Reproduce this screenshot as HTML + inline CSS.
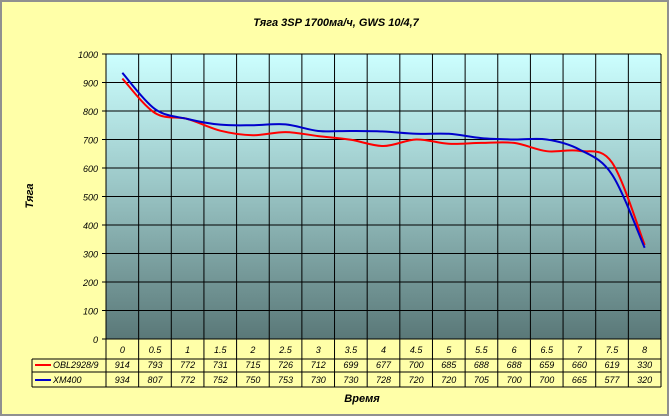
<!DOCTYPE html>
<html><head><meta charset="utf-8"><style>
html,body{margin:0;padding:0;background:#fff}
svg{display:block;font-family:"Liberation Sans",sans-serif}
</style></head><body>
<svg id="c" width="671" height="418">
<defs><linearGradient id="g" x1="0" y1="0" x2="0" y2="1"><stop offset="0" stop-color="#CCFFFF"/><stop offset="0.45" stop-color="#9CC8C8"/><stop offset="1" stop-color="#5A7878"/></linearGradient></defs>
<rect x="0" y="0" width="671" height="418" fill="#ffffff"/>
<rect x="1" y="1" width="667" height="414" fill="#FFFFA8" stroke="#909090" stroke-width="2"/>
<text x="336" y="26" text-anchor="middle" font-size="11" font-weight="bold" font-style="italic">Тяга 3SP 1700ма/ч, GWS 10/4,7</text>
<text x="33" y="196" text-anchor="middle" font-size="11" font-weight="bold" font-style="italic" transform="rotate(-90 33 196)">Тяга</text>
<text x="362" y="402" text-anchor="middle" font-size="11" font-weight="bold" font-style="italic">Время</text>
<g id="plot"></g>
</svg>
<script>
const categories=["0","0.5","1","1.5","2","2.5","3","3.5","4","4.5","5","5.5","6","6.5","7","7.5","8"];
const seriesOBL=[914,793,772,731,715,726,712,699,677,700,685,688,688,659,660,619,330];
const seriesXM=[934,807,772,752,750,753,730,730,728,720,720,705,700,700,665,577,320];
const yTicks=[0,100,200,300,400,500,600,700,800,900,1000];
const L=106,R=661,T=54,B=339,N=categories.length,cw=(R-L)/N;
const xs=i=>L+cw*(i+0.5), ys=v=>B-(v/1000)*(B-T);
const g=document.getElementById('plot'),NS="http://www.w3.org/2000/svg";
function mk(t,a,p){const e=document.createElementNS(NS,t);for(const k in a)e.setAttribute(k,a[k]);(p||g).appendChild(e);return e;}
let e=mk('rect',{x:L,y:T,width:R-L,height:B-T,fill:'url(#g)'});


yTicks.forEach(v=>{const y=ys(v);
 let l=mk('line',{x1:L-4,x2:R,y1:y,y2:y,stroke:'#000','stroke-width':1});
 
 
 let t=mk('text',{x:L-8,y:y+4,'text-anchor':'end','font-size':9,'font-style':'italic'});t.textContent=v;
 
 });
for(let i=0;i<=N;i++){const x=L+cw*i;let l=mk('line',{x1:x,x2:x,y1:T,y2:387,stroke:'#000','stroke-width':1});
 
 }
// table
const rows=[339,359,372,387];
rows.forEach((y,k)=>{let l=mk('line',{x1:k==0?L:32,x2:R,y1:y,y2:y,stroke:'#000','stroke-width':1});
 
 });
let lb=mk('line',{x1:32,x2:32,y1:359,y2:387,stroke:'#000'});


function cell(txt,x,y,name){let t=mk('text',{x:x,y:y,'text-anchor':'middle','font-size':9,'font-style':'italic'});t.textContent=txt;
 
 }
categories.forEach((c,i)=>{cell(c,xs(i),353,'x-category-label');cell(seriesOBL[i],xs(i),368,'obl-value');cell(seriesXM[i],xs(i),383,'xm-value');});
function legend(y,color,label,name){let l=mk('line',{x1:35,x2:51,y1:y-3,y2:y-3,stroke:color,'stroke-width':2});
 
 
 let t=mk('text',{x:53,y:y,'font-size':9,'font-style':'italic'});t.textContent=label;
 
 }
legend(368,'#FF0000','OBL2928/9','obl');legend(383,'#0000CC','XM400','xm');
function smooth(vals){const p=vals.map((v,i)=>[xs(i),ys(v)]);let d='M'+p[0][0]+','+p[0][1];
 for(let i=0;i<p.length-1;i++){const p0=p[i-1]||p[i],p1=p[i],p2=p[i+1],p3=p[i+2]||p2;
 const c1=[p1[0]+(p2[0]-p0[0])/6,p1[1]+(p2[1]-p0[1])/6],c2=[p2[0]-(p3[0]-p1[0])/6,p2[1]-(p3[1]-p1[1])/6];
 d+=` C${c1[0]},${c1[1]} ${c2[0]},${c2[1]} ${p2[0]},${p2[1]}`;}return d;}
let s1=mk('path',{d:smooth(seriesOBL),fill:'none',stroke:'#FF0000','stroke-width':2});


let s2=mk('path',{d:smooth(seriesXM),fill:'none',stroke:'#0000CC','stroke-width':2});


</script>
</body></html>
